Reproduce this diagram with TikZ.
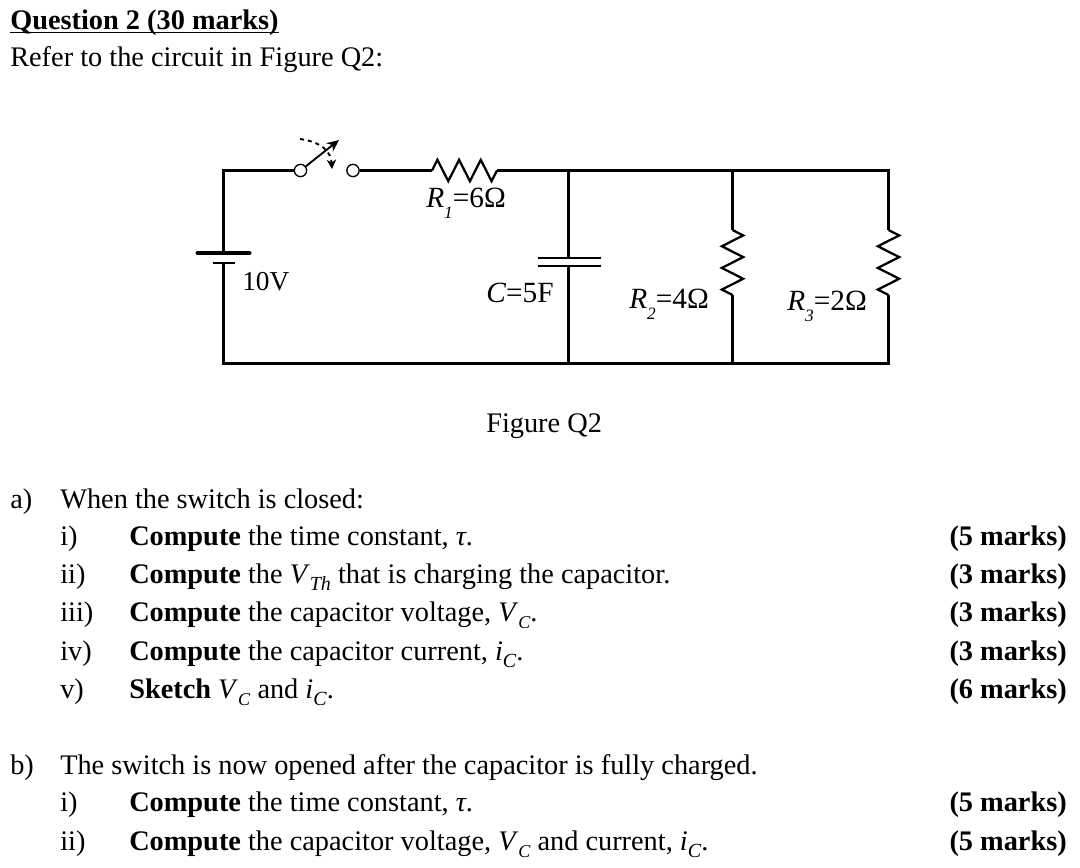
\documentclass[tikz,border=0pt]{standalone}
\usepackage{fontspec}
\setmainfont{Liberation Serif}
\usetikzlibrary{calc,arrows.meta,decorations.pathmorphing}
\tikzstyle{txt}=[anchor=base west,inner sep=0pt,font=\fontsize{21.25}{24}\selectfont]
\tikzstyle{lbl}=[anchor=base west,inner sep=0pt,font=\fontsize{22}{24}\selectfont]
\tikzstyle{tally}=[anchor=base east,inner sep=0pt,font=\fontsize{21.25}{24}\selectfont\bfseries]
\tikzstyle{wire}=[draw,line width=1.7pt]
\tikzstyle{terminal}=[circle,draw,line width=1pt,fill=white,minimum size=9.2pt,inner sep=0pt]
\tikzstyle{resistor}=[wire,decorate,decoration={zigzag,amplitude=8pt,segment length=16.25pt}]
\tikzstyle{plate}=[draw,line width=1.5pt]
\newcommand{\lowsub}[2]{\textit{#1}\raisebox{-.38em}{\fontsize{13}{13}\selectfont\textit{#2}}}
\newcommand{\symb}[2]{\textit{#1}\raisebox{-.28em}{\fontsize{15}{15}\selectfont\textit{#2}}}
\newcommand{\vsym}[1]{\textit{V}\raisebox{-.28em}{\fontsize{13.5}{15}\selectfont\textit{#1}}}
\begin{document}
\begin{tikzpicture}[x=0.75pt,y=-0.75pt]
\useasboundingbox (0,0) rectangle (1080,867);
% heading
\node[txt] (title) at (10,30) {\textbf{\underline{\smash{Question 2 (30 marks)}}}};
\node[txt] (intro) at (10,67) {Refer to the circuit in Figure Q2:};

% circuit
\coordinate (tl) at (223.5,170.5);
\coordinate (bl) at (223.5,363.5);
\coordinate (top1) at (568.5,170.5);
\coordinate (top2) at (732.5,170.5);
\coordinate (top3) at (888.5,170.5);
\coordinate (bot1) at (568.5,363.5);
\coordinate (bot2) at (732.5,363.5);
\coordinate (bot3) at (888.5,363.5);
\coordinate (bat1) at (223.5,253);
\coordinate (bat2) at (223.5,263);
\coordinate (cap1) at (568.5,258);
\coordinate (cap2) at (568.5,266);
\coordinate (r1a) at (432,170.5);
\coordinate (r1b) at (497,170.5);
\coordinate (r2a) at (732.5,230);
\coordinate (r2b) at (732.5,295);
\coordinate (r3a) at (888.5,230);
\coordinate (r3b) at (888.5,295);
\coordinate (lever) at (339,140);
\coordinate (swing1) at (300,139);
\coordinate (swing2) at (332,169);
\node[terminal] (sw1) at (300.5,170.5) {};
\node[terminal] (sw2) at (353,170.5) {};

\path[wire] (bat1) -- (tl) -- (sw1);
\path[wire] (sw2) -- (r1a);
\path[resistor] (r1a) -- (r1b);
\path[wire] (r1b) -- (top1) -- (top2) -- (top3) -- (r3a);
\path[resistor] (r3a) -- (r3b);
\path[wire] (r3b) -- (bot3) -- (bot2) -- (bot1) -- (bl) -- (bat2);
\path[wire] (top1) -- (cap1);
\path[wire] (cap2) -- (bot1);
\path[wire] (top2) -- (r2a);
\path[resistor] (r2a) -- (r2b);
\path[wire] (r2b) -- (bot2);
\path[draw,line width=3pt,line cap=round] ($(bat1)+(-26,0)$) -- ($(bat1)+(26,0)$);
\path[plate] ($(bat2)+(-11,0)$) -- ($(bat2)+(11,0)$);
\path[plate] ($(cap1)+(-31,0)$) -- ($(cap1)+(32,0)$);
\path[plate] ($(cap2)+(-31,0)$) -- ($(cap2)+(32,0)$);
\path[draw,line width=1.4pt,-{Stealth[length=9pt,width=8pt]}] (sw1) -- (lever);
\path[draw,line width=1.4pt,dash pattern=on 3pt off 3pt,-{Stealth[length=7pt,width=7pt]}] (swing1) .. controls (322,142) and (331,152) .. (swing2);

\node[lbl] (lr1) at (426,207) {\lowsub{R}{1}=6Ω};
\node[lbl,font=\fontsize{20.5}{24}\selectfont] (lsrc) at (242,290) {10V};
\node[lbl] (lc) at (486,302) {\textit{C}=5F};
\node[lbl] (lr2) at (629,308) {\lowsub{R}{2}=4Ω};
\node[lbl] (lr3) at (787,310) {\lowsub{R}{3}=2Ω};
\node[txt] (fig) at (486,432) {Figure Q2};

% part a
\node[txt] (a) at (10,508) {a)};
\node[txt] (aq) at (60,508) {When the switch is closed:};
\node[txt] (a1) at (60,545) {i)};
\node[txt] (a1q) at (129,545) {\textbf{Compute} the time constant, \textit{τ}.};
\node[tally] (a1m) at (1067,545) {(5 marks)};
\node[txt] (a2) at (60,583) {ii)};
\node[txt] (a2q) at (129,583) {\textbf{Compute} the \symb{V}{Th} that is charging the capacitor.};
\node[tally] (a2m) at (1067,583) {(3 marks)};
\node[txt] (a3) at (60,621) {iii)};
\node[txt] (a3q) at (129,621) {\textbf{Compute} the capacitor voltage, \vsym{C}.};
\node[tally] (a3m) at (1067,621) {(3 marks)};
\node[txt] (a4) at (60,660) {iv)};
\node[txt] (a4q) at (129,660) {\textbf{Compute} the capacitor current, \symb{i}{C}.};
\node[tally] (a4m) at (1067,660) {(3 marks)};
\node[txt] (a5) at (60,698) {v)};
\node[txt] (a5q) at (129,698) {\textbf{Sketch} \vsym{C} and \symb{i}{C}.};
\node[tally] (a5m) at (1067,698) {(6 marks)};

% part b
\node[txt] (b) at (10,774) {b)};
\node[txt] (bq) at (60,774) {The switch is now opened after the capacitor is fully charged.};
\node[txt] (b1) at (60,811) {i)};
\node[txt] (b1q) at (129,811) {\textbf{Compute} the time constant, \textit{τ}.};
\node[tally] (b1m) at (1067,811) {(5 marks)};
\node[txt] (b2) at (60,850) {ii)};
\node[txt] (b2q) at (129,850) {\textbf{Compute} the capacitor voltage, \vsym{C} and current, \symb{i}{C}.};
\node[tally] (b2m) at (1067,850) {(5 marks)};
\end{tikzpicture}
\end{document}
